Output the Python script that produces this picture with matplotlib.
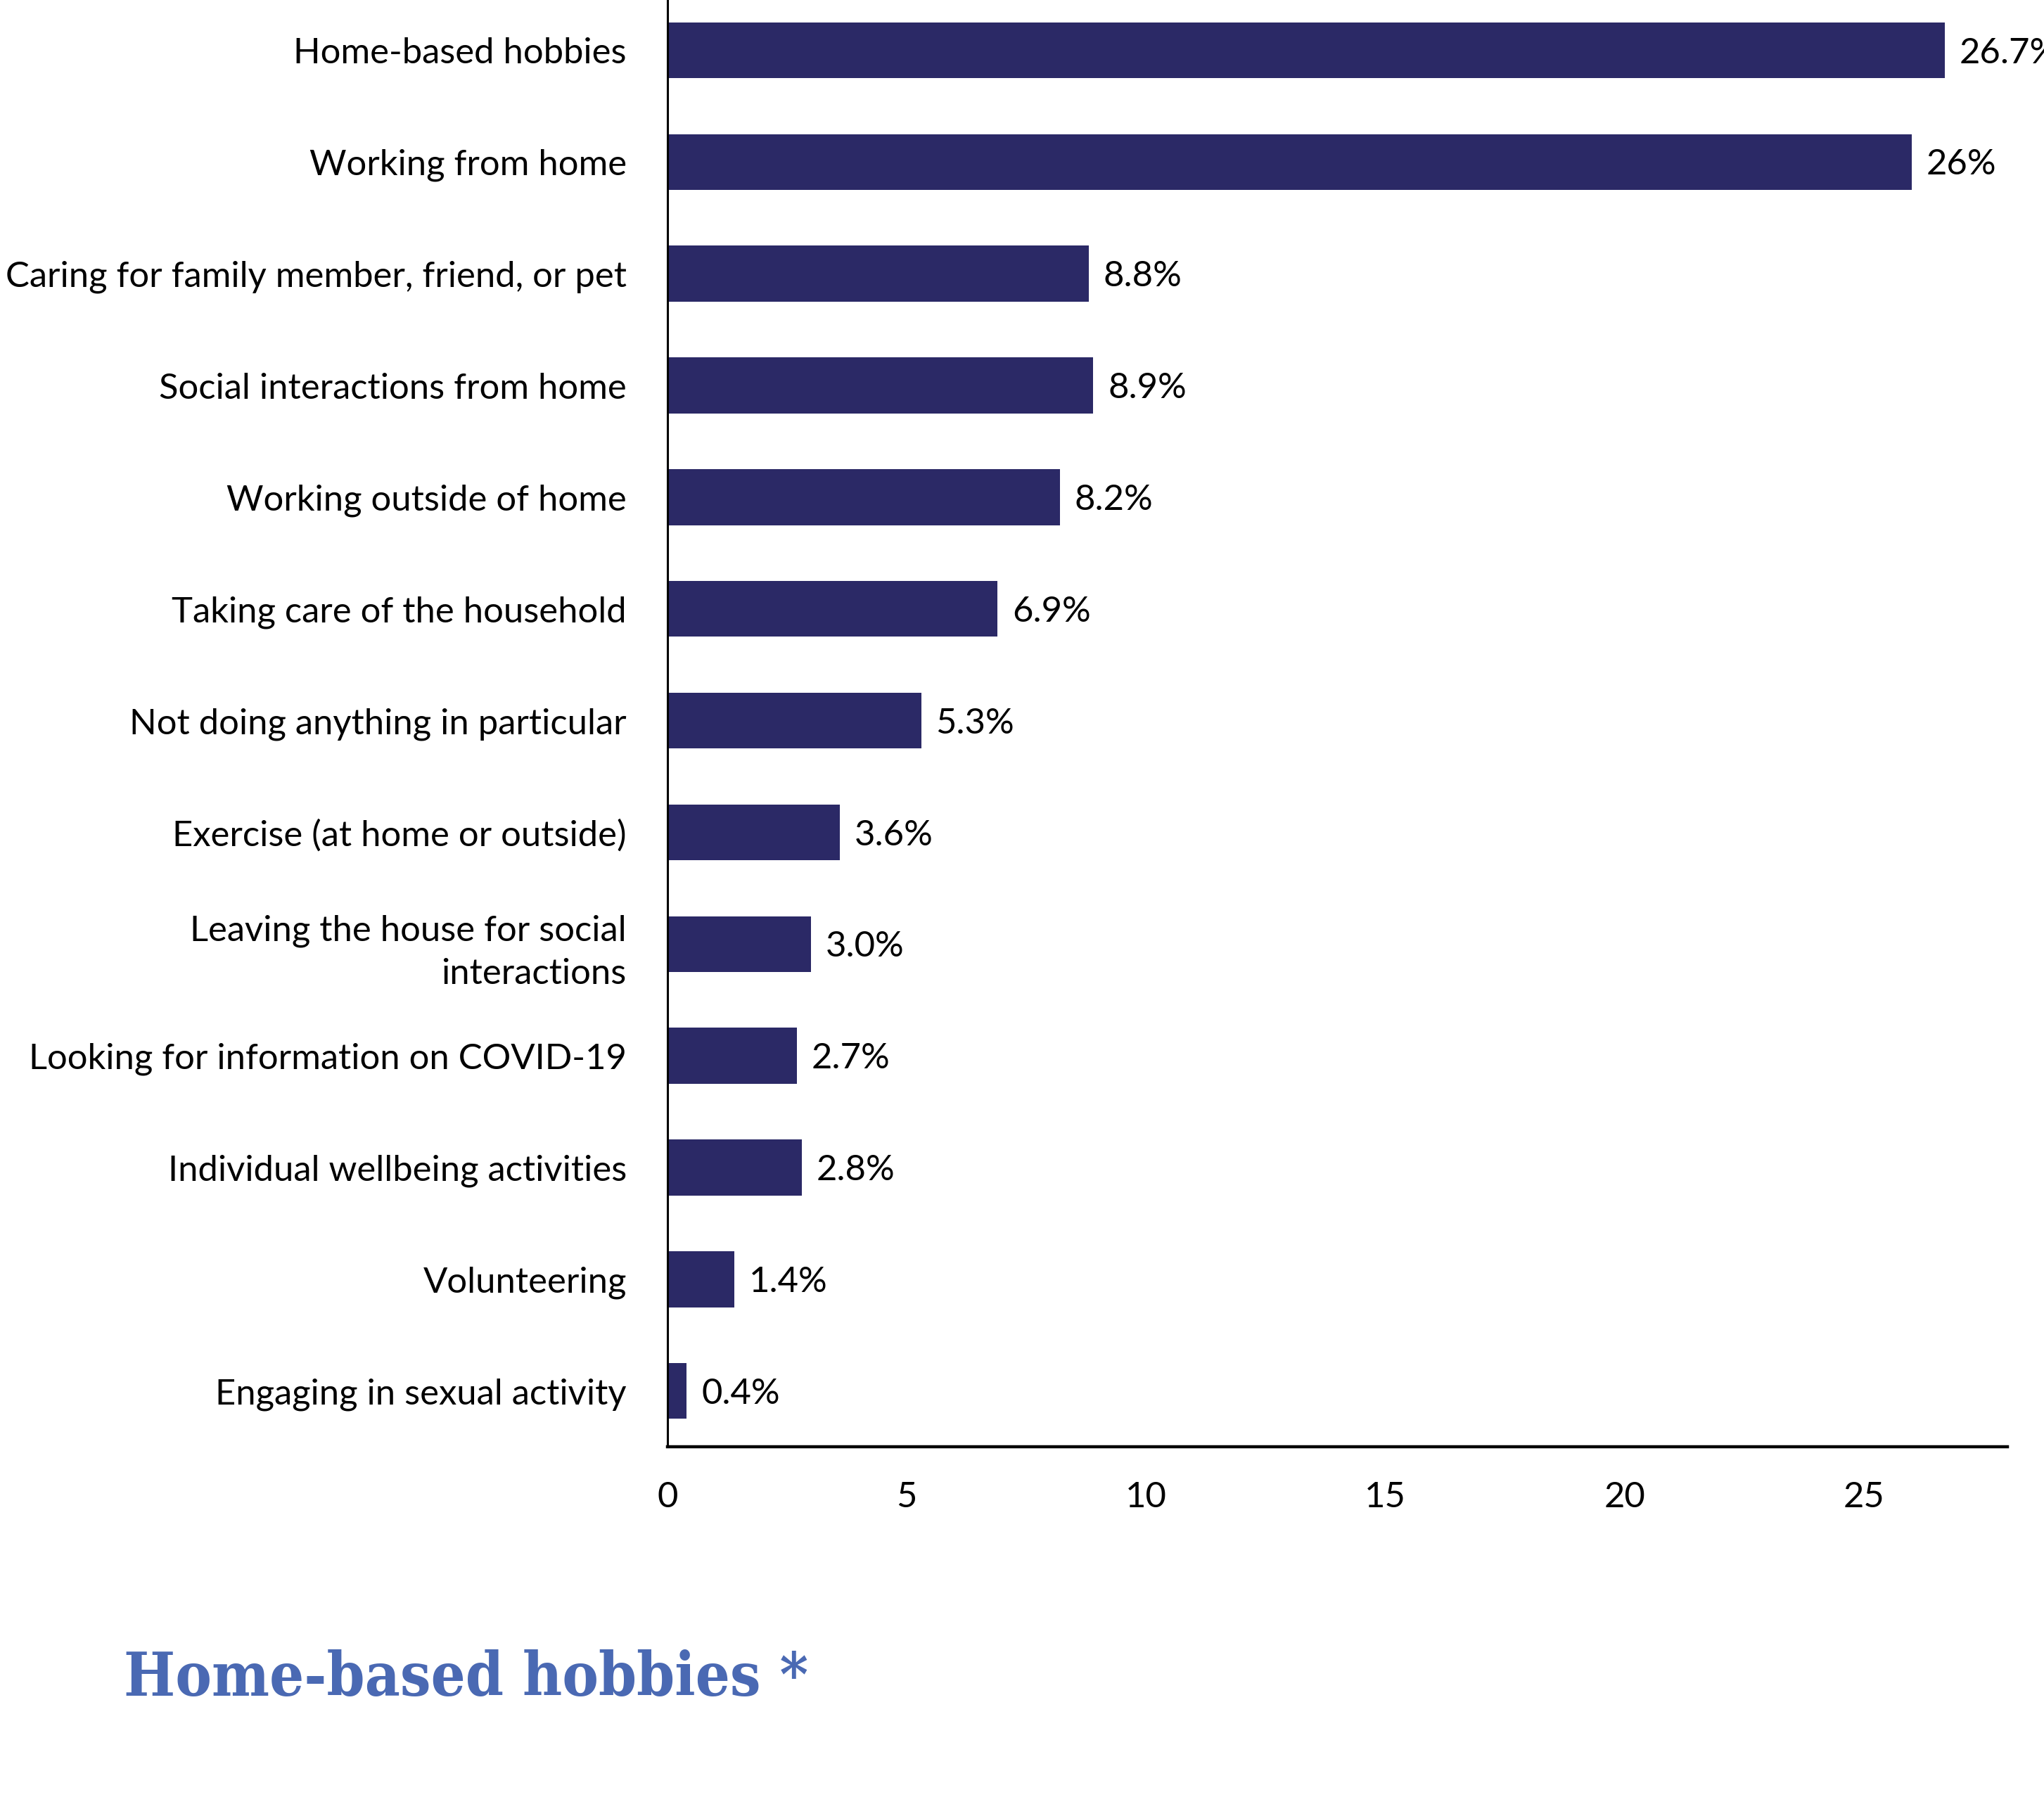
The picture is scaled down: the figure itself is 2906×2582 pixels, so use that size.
import matplotlib
matplotlib.use("Agg")
import matplotlib.pyplot as plt

# share of time spent on each activity (%)
activities = [
    "Home-based hobbies",
    "Working from home",
    "Caring for family member, friend, or pet",
    "Social interactions from home",
    "Working outside of home",
    "Taking care of the household",
    "Not doing anything in particular",
    "Exercise (at home or outside)",
    "Leaving the house for social\ninteractions",
    "Looking for information on COVID-19",
    "Individual wellbeing activities",
    "Volunteering",
    "Engaging in sexual activity",
]
shares = [26.7, 26.0, 8.8, 8.9, 8.2, 6.9, 5.3, 3.6, 3.0, 2.7, 2.8, 1.4, 0.4]
value_labels = ["26.7%", "26%", "8.8%", "8.9%", "8.2%", "6.9%", "5.3%",
                "3.6%", "3.0%", "2.7%", "2.8%", "1.4%", "0.4%"]
xticks = [0, 5, 10, 15, 20, 25]

bar_color = "#2b2966"
title_color = "#4a69b3"

plt.rcParams["font.family"] = ["Lato", "DejaVu Sans"]

fig = plt.figure(figsize=(29.06, 25.82), dpi=100)
ax = fig.add_axes([0.3266, 0.2033, 0.6554, 0.7967])

ypos = list(range(len(activities)))
ax.barh(ypos, shares, height=0.5, color=bar_color)

for y, v, lab in zip(ypos, shares, value_labels):
    ax.annotate(lab, (v, y), xytext=(15, -3), textcoords="offset points",
                va="center", ha="left", fontsize=36.5, color="black",
                annotation_clip=False)

ax.set_xlim(0, 28)
ax.set_ylim(len(activities) - 0.5, -0.45)
ax.set_yticks(ypos)
ax.set_yticklabels(activities, fontsize=36.5, linespacing=1.4)
ax.set_xticks(xticks)
ax.set_xticklabels([str(t) for t in xticks], fontsize=36.5)
ax.tick_params(axis="y", length=0, pad=42)
ax.tick_params(axis="x", length=0, pad=35)

for s in ["top", "right"]:
    ax.spines[s].set_visible(False)
ax.spines["left"].set_linewidth(2.2)
ax.spines["bottom"].set_linewidth(3.2)

fig.text(0.0606, 0.0755, "Home-based hobbies *", fontsize=62,
         fontweight="bold", family="DejaVu Serif", fontstretch="condensed",
         color=title_color, ha="left", va="center")

fig.savefig("out.png", dpi=100)
